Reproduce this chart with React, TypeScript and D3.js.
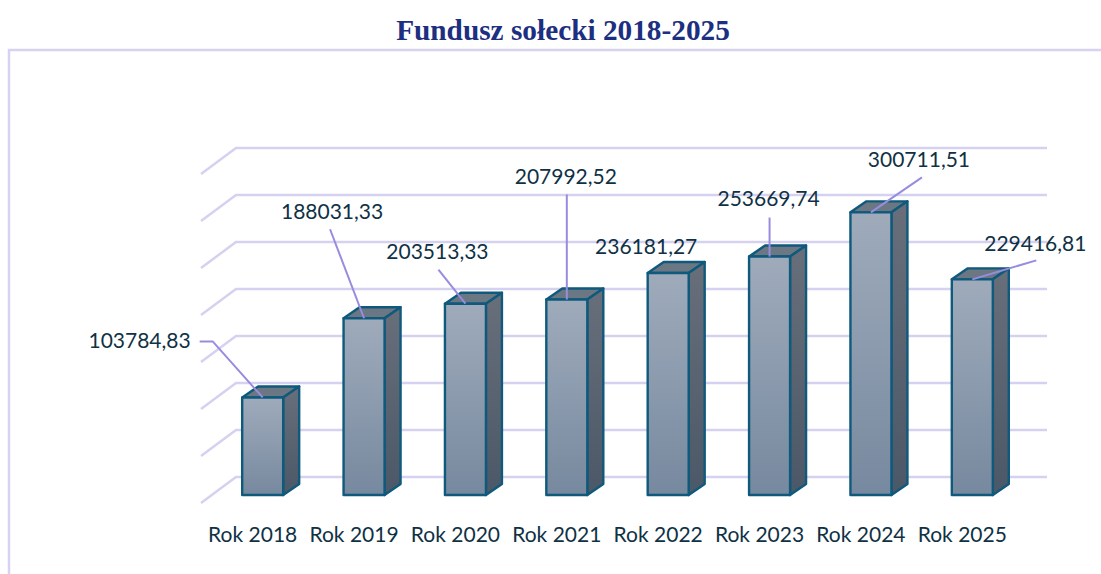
import * as d3 from 'd3';

const categories = ['Rok 2018', 'Rok 2019', 'Rok 2020', 'Rok 2021', 'Rok 2022', 'Rok 2023', 'Rok 2024', 'Rok 2025'];
const values = [103784.83, 188031.33, 203513.33, 207992.52, 236181.27, 253669.74, 300711.51, 229416.81];
const valueLabels = ['103784,83', '188031,33', '203513,33', '207992,52', '236181,27', '253669,74', '300711,51', '229416,81'];
const gridTicks = [0, 50000, 100000, 150000, 200000, 250000, 300000, 350000];

// where each data label sits, relative to the top middle of its bar
const labelOffsets = [[-72, -58], [-32, -108], [-28, -53], [-1, -124], [-22, -27], [-1, -59], [48, -54], [63, -37]];
// leader line start, relative to the same point (null = no leader)
const leaderOffsets: (number[][] | null)[] = [
	[[-63, -56], [-50, -56]],
	[[-34, -89]],
	[[-27, -34]],
	[[0, -105]],
	null,
	[[0, -39]],
	[[51, -35]],
	[[64, -19]],
];

const floorDx = 35, floorDy = 26; // grid depth
const barDx = 16, barDy = 11; // bar depth
const barWidth = 41;

const frameColor = '#d6d2ef';
const gridColor = '#d5d1f0';
const leaderColor = '#978dde';
const edgeColor = '#0f5a7c';
const textColor = '#0f3145';

export default function App() {

	const x = d3.scaleBand().domain(categories).range([202, 1013]);
	const y = d3.scaleLinear().domain([0, 350000]).range([503, 174]);

	return (
		<svg width={1101} height={574} style={{ position: 'absolute', left: 0, top: 0, background: '#fff' }}>
			<defs>
				<linearGradient id="front" x1="0" y1="0" x2="0" y2="1">
					<stop offset="0" stopColor="#9fabbb" />
					<stop offset="1" stopColor="#77899f" />
				</linearGradient>
				<linearGradient id="side" x1="0" y1="0" x2="0" y2="1">
					<stop offset="0" stopColor="#686f7b" />
					<stop offset="1" stopColor="#4b5867" />
				</linearGradient>
			</defs>

			<path d="M9,574V50H1101" fill="none" stroke={frameColor} strokeWidth={2.5} />

			<text x={563} y={40} textAnchor="middle" fontFamily="Liberation Serif" fontWeight="bold" fontSize={29.3} fill="#1c2f80">
				Fundusz sołecki 2018-2025
			</text>

			{gridTicks.map(t => (
				<path
					key={t}
					d={`M201,${y(t)}l${floorDx},${-floorDy}H1047`}
					fill="none"
					stroke={gridColor}
					strokeWidth={2.5}
				/>
			))}

			{categories.map((c, i) => {
				const x0 = x(c)! + x.bandwidth() / 2 + 10 - barWidth / 2;
				const x1 = x0 + barWidth;
				const base = y(0) - 8;
				const top = base - (y(0) - y(values[i]));
				return (
					<g key={c} stroke={edgeColor} strokeWidth={2.4} strokeLinejoin="round">
						<path d={`M${x0},${top}l${barDx},${-barDy}h${barWidth}l${-barDx},${barDy}z`} fill="#6c7784" />
						<path d={`M${x1},${top}l${barDx},${-barDy}V${base - barDy}l${-barDx},${barDy}z`} fill="url(#side)" />
						<rect x={x0} y={top} width={barWidth} height={base - top} fill="url(#front)" />
					</g>
				);
			})}

			{categories.map((c, i) => {
				const cx = x(c)! + x.bandwidth() / 2 + 10;
				const top = y(0) - 8 - (y(0) - y(values[i]));
				const leader = leaderOffsets[i];
				const line = d3.line();
				return (
					<g key={c}>
						{leader && (
							<path
								d={line([...leader.map(p => [cx + p[0], top + p[1]] as [number, number]), [cx, top]])!}
								fill="none"
								stroke={leaderColor}
								strokeWidth={2}
							/>
						)}
						<text
							x={cx + labelOffsets[i][0]}
							y={top + labelOffsets[i][1]}
							textAnchor={i === 0 ? 'end' : 'middle'}
							dominantBaseline="central"
							fontFamily="Lato"
							fontSize={21}
							fill={textColor}
						>
							{valueLabels[i]}
						</text>
						<text
							x={x(c)! + x.bandwidth() / 2}
							y={533}
							textAnchor="middle"
							dominantBaseline="central"
							fontFamily="Lato"
							fontSize={21}
							fill={textColor}
						>
							{c}
						</text>
					</g>
				);
			})}
		</svg>
	);
}
